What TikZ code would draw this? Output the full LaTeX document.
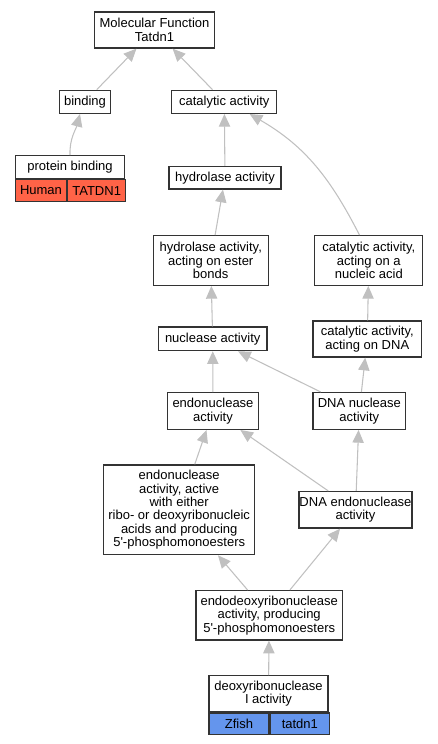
\documentclass[tikz,border=0pt]{standalone}
\usepackage{fontspec}
\setmainfont{Liberation Sans}
\usetikzlibrary{arrows.meta}

\definecolor{human}{HTML}{FF6347}
\definecolor{zfish}{HTML}{6495ED}
\definecolor{edgegray}{HTML}{C0C0C0}

\begin{document}
\begin{tikzpicture}[x=0.75pt, y=-0.75pt,
		t/.style={draw=black!80, line width=1pt, fill=white, align=center, inner sep=0pt, font=\fontsize{9.75}{10}\selectfont},
		cell/.style={t, anchor=north west, minimum height=16.3pt},
		e/.style={draw=edgegray, line width=0.8pt, -{Triangle[length=9.5pt, width=8.5pt, fill=edgegray, color=edgegray]}}]
		\useasboundingbox (0,0) rectangle (437,744);

		\node[t, minimum width=90pt, minimum height=27pt] (mf) at (154.5,30) {Molecular Function\\Tatdn1};
		\node[t, minimum width=38.25pt, minimum height=17.25pt] (bind) at (85,101.8) {binding};
		\node[t, minimum width=78.75pt, minimum height=17.25pt] (cat) at (224.3,101.8) {catalytic activity};
		\node[t, minimum width=81.5pt, minimum height=17pt] (pb) at (70,167) {protein binding};
		\node[cell, fill=human, minimum width=38pt] (pbh) at (pb.south west) {Human};
		\node[cell, fill=human, minimum width=43.5pt] (pbg) at (pbh.north east) {TATDN1};
		\node[t, minimum width=84pt, minimum height=16.75pt] (hyd) at (225,177.8) {hydrolase activity};
		\node[t, minimum width=86.25pt, minimum height=37.2pt] (hyde) at (210.7,260.5) {hydrolase activity,\\acting on ester\\bonds};
		\node[t, minimum width=81pt, minimum height=37.2pt] (cna) at (368.8,260.5) {catalytic activity,\\acting on a\\nucleic acid};
		\node[t, minimum width=81.5pt, minimum height=17.75pt] (nuc) at (212.7,338.8) {nuclease activity};
		\node[t, minimum width=81.5pt, minimum height=27pt] (cdna) at (367.3,339) {catalytic activity,\\acting on DNA};
		\node[t, minimum width=68.5pt, minimum height=27.5pt] (endo) at (213,411) {endonuclease\\activity};
		\node[t, minimum width=69.5pt, minimum height=27.5pt] (dnanuc) at (359.3,411) {DNA nuclease\\activity};
		\node[t, minimum width=113.25pt, minimum height=67.25pt] (endoa) at (179.2,509.8) {endonuclease\\activity, active\\with either\\ribo- or deoxyribonucleic\\acids and producing\\5\textquotesingle-phosphomonoesters};
		\node[t, minimum width=84.75pt, minimum height=27.25pt] (dnaendo) at (355.5,509.8) {DNA endonuclease\\activity};
		\node[t, minimum width=109.75pt, minimum height=37pt] (endod) at (269.2,615.3) {endodeoxyribonuclease\\activity, producing\\5\textquotesingle-phosphomonoesters};
		\node[t, minimum width=89.25pt, minimum height=27pt] (dnase) at (268.5,693.7) {deoxyribonuclease\\I activity};
		\node[cell, fill=zfish, minimum width=45pt] (dzf) at (dnase.south west) {Zfish};
		\node[cell, fill=zfish, minimum width=44.25pt] (dzg) at (dzf.north east) {tatdn1};

		\path (bind) edge[e] (mf);
		\path (cat) edge[e] (mf);
		\path (pb.north) edge[e, out=92, in=-105] ([xshift=-3.75pt]bind.south);
		\path (hyd) edge[e] (cat);
		\path (hyde) edge[e] (hyd);
		\path ([xshift=-7pt]cna.north) edge[e, out=117, in=-30] ([xshift=19pt]cat.south);
		\path (nuc) edge[e] (hyde);
		\path (cdna) edge[e] (cna);
		\path (endo) edge[e] (nuc);
		\path (dnanuc) edge[e] (nuc);
		\path (dnanuc) edge[e] (cdna);
		\path (endoa) edge[e] (endo);
		\path (dnaendo) edge[e] (endo);
		\path (dnaendo) edge[e] (dnanuc);
		\path (endod) edge[e] (endoa);
		\path (endod) edge[e] (dnaendo);
		\path (dnase) edge[e] (endod);
	\end{tikzpicture}
\end{document}
